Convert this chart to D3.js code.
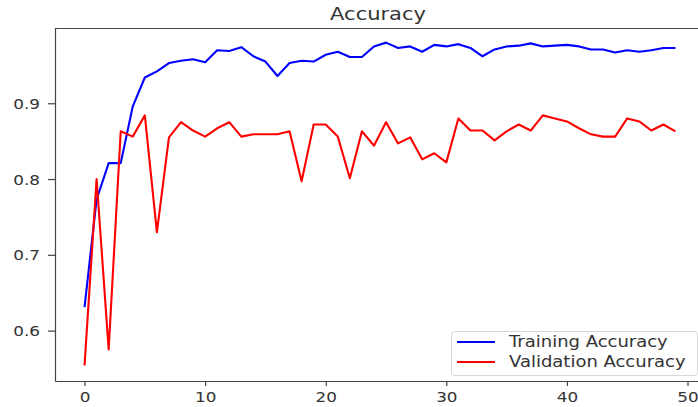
<!DOCTYPE html>
<meta charset="utf-8">
<style>
    body { margin: 0; background: #fff; }
    svg text { font-family: "DejaVu Sans", sans-serif; fill: #333; }
</style>
<svg width="698" height="407"></svg>
<script src="https://cdn.jsdelivr.net/npm/d3@7"></script>
<script>
    // values, epochs 0..49
    var epochs = d3.range(50);
    var trainAcc = [0.631, 0.773, 0.821, 0.821, 0.896, 0.934, 0.942, 0.953, 0.956, 0.958,
                    0.954, 0.970, 0.969, 0.974, 0.962, 0.955, 0.936, 0.953, 0.956, 0.955,
                    0.964, 0.968, 0.961, 0.961, 0.975, 0.980, 0.973, 0.975, 0.968, 0.977,
                    0.975, 0.978, 0.973, 0.962, 0.971, 0.975, 0.976, 0.979, 0.975, 0.976,
                    0.977, 0.975, 0.971, 0.971, 0.967, 0.970, 0.968, 0.970, 0.973, 0.973];
    var valAcc = [0.554, 0.800, 0.575, 0.863, 0.856, 0.884, 0.730, 0.855, 0.875, 0.864,
                  0.856, 0.867, 0.875, 0.856, 0.859, 0.859, 0.859, 0.863, 0.797, 0.872,
                  0.872, 0.856, 0.801, 0.863, 0.844, 0.875, 0.847, 0.855, 0.826, 0.834,
                  0.822, 0.880, 0.864, 0.864, 0.851, 0.863, 0.872, 0.864, 0.884, 0.880,
                  0.876, 0.867, 0.859, 0.856, 0.856, 0.880, 0.876, 0.864, 0.872, 0.863];
    var xTicks = [0, 10, 20, 30, 40, 50];
    var yTicks = [0.6, 0.7, 0.8, 0.9];
    var seriesNames = ["Training Accuracy", "Validation Accuracy"];
    var seriesColors = ["#0000ff", "#ff0000"];

    var svg = d3.select("svg"),
        plot = {left: 55, right: 705, top: 28, bottom: 381},
        sx = 1.2; // the picture is stretched sideways

    var x = d3.scaleLinear().domain([-2.45, 51.45]).range([plot.left, plot.right]);
    var y = d3.scaleLinear().domain([0.5335, 0.9993]).range([plot.bottom, plot.top]);

    // frame
    svg.append("line").attr("x1", plot.left).attr("x2", plot.right)
        .attr("y1", plot.top + 0.5).attr("y2", plot.top + 0.5)
        .attr("stroke", "#444").attr("stroke-width", 1.2);

    var gx = svg.append("g").attr("transform", "translate(0," + plot.bottom + ")")
        .call(d3.axisBottom(x).tickValues(xTicks).tickSize(5).tickSizeOuter(0).tickFormat(d3.format("d")));
    var gy = svg.append("g").attr("transform", "translate(" + plot.left + ",0)")
        .call(d3.axisLeft(y).tickValues(yTicks).tickSize(7).tickSizeOuter(0).tickFormat(d3.format(".1f")));

    [gx, gy].forEach(function(g) {
        g.select(".domain").attr("stroke", "#444").attr("stroke-width", 1.2);
        g.selectAll(".tick line").attr("stroke", "#444").attr("stroke-width", 1.2);
        g.selectAll(".tick text").attr("fill", "#333").style("font-size", "14px");
    });
    gx.selectAll(".tick text").attr("y", 0).attr("dy", 0)
        .attr("transform", "translate(0,21) scale(" + sx + ",1)");
    gy.selectAll(".tick text").attr("x", 0).attr("dy", "0.36em")
        .attr("transform", "translate(-15,0) scale(" + sx + ",1)");

    // lines
    var line = d3.line().x(function(d, i) { return x(epochs[i]); }).y(function(d) { return y(d); });
    [trainAcc, valAcc].forEach(function(s, k) {
        svg.append("path").datum(s).attr("d", line)
            .attr("fill", "none").attr("stroke", seriesColors[k])
            .attr("stroke-width", 2.1).attr("stroke-linejoin", "round");
    });

    // title
    svg.append("text")
        .attr("transform", "translate(" + ((plot.left + plot.right) / 2 - 2) + ",20) scale(" + sx + ",1)")
        .attr("text-anchor", "middle").style("font-size", "17.5px").text("Accuracy");

    // legend
    var lg = svg.append("g");
    lg.append("rect").attr("x", 451.5).attr("y", 331.5).attr("width", 246).attr("height", 44)
        .attr("rx", 3).attr("fill", "#fff").attr("fill-opacity", 0.8)
        .attr("stroke", "#d6d6d6").attr("stroke-width", 1);
    seriesNames.forEach(function(n, k) {
        var yy = 342 + k * 20;
        lg.append("line").attr("x1", 457).attr("x2", 495).attr("y1", yy).attr("y2", yy)
            .attr("stroke", seriesColors[k]).attr("stroke-width", 2.1);
        lg.append("text").attr("transform", "translate(509," + yy + ") scale(" + sx + ",1)")
            .attr("dy", "0.36em").style("font-size", "15px").text(n);
    });
</script>
